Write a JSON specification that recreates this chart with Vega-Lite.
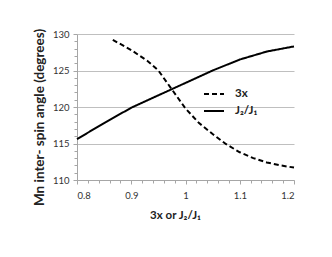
{
  "$schema": "https://vega.github.io/schema/vega-lite/v6.json",
  "autosize": {"type": "none"},
  "width": 217,
  "height": 146,
  "padding": {"left": 77, "top": 34, "right": 38, "bottom": 77},
  "background": "white",
  "config": {
    "view": {"stroke": null},
    "font": "Lato",
    "axis": {"labelFont": "Lato", "titleFont": "Lato", "labelColor": "#333", "titleColor": "#222"}
  },
  "data": {
    "values": [
      {"x": 0.8, "angle": 115.6, "series": "J₂/J₁"},
      {"x": 0.85, "angle": 117.8, "series": "J₂/J₁"},
      {"x": 0.9, "angle": 119.9, "series": "J₂/J₁"},
      {"x": 0.95, "angle": 121.6, "series": "J₂/J₁"},
      {"x": 1.0, "angle": 123.3, "series": "J₂/J₁"},
      {"x": 1.05, "angle": 125.0, "series": "J₂/J₁"},
      {"x": 1.1, "angle": 126.5, "series": "J₂/J₁"},
      {"x": 1.15, "angle": 127.6, "series": "J₂/J₁"},
      {"x": 1.2, "angle": 128.3, "series": "J₂/J₁"},
      {"x": 0.866, "angle": 129.2, "series": "3x"},
      {"x": 0.9, "angle": 127.8, "series": "3x"},
      {"x": 0.93, "angle": 126.3, "series": "3x"},
      {"x": 0.95, "angle": 125.0, "series": "3x"},
      {"x": 0.975, "angle": 122.4, "series": "3x"},
      {"x": 1.0, "angle": 119.8, "series": "3x"},
      {"x": 1.025, "angle": 117.8, "series": "3x"},
      {"x": 1.05, "angle": 116.3, "series": "3x"},
      {"x": 1.075, "angle": 114.9, "series": "3x"},
      {"x": 1.1, "angle": 113.8, "series": "3x"},
      {"x": 1.125, "angle": 113.0, "series": "3x"},
      {"x": 1.15, "angle": 112.4, "series": "3x"},
      {"x": 1.175, "angle": 112.0, "series": "3x"},
      {"x": 1.2, "angle": 111.7, "series": "3x"}
    ]
  },
  "layer": [
    {
      "mark": {"type": "rule", "opacity": 0},
      "encoding": {
        "x": {"field": "x", "type": "quantitative", "scale": {"domain": [0.8, 1.2]},
          "axis": {"values": [0.82,0.84,0.86,0.88,0.92,0.94,0.96,0.98,1.02,1.04,1.06,1.08,1.12,1.14,1.16,1.18], "labels": false, "grid": false, "domain": false, "tickSize": 3, "tickColor": "#a6a6a6", "title": null, "orient": "bottom"}},
        "y": {"field": "angle", "type": "quantitative", "scale": {"domain": [110, 130]},
          "axis": {"values": [111,112,113,114,116,117,118,119,121,122,123,124,126,127,128,129], "labels": false, "grid": false, "domain": false, "tickSize": 3, "tickColor": "#a6a6a6", "title": null, "orient": "left"}}
      }
    },
    {
      "mark": {"type": "line", "color": "black", "strokeWidth": 2},
      "encoding": {
        "x": {"field": "x", "type": "quantitative", "scale": {"domain": [0.8, 1.2]},
          "axis": {"orient": "bottom", "values": [0.8, 0.9, 1.0, 1.1, 1.2], "format": "~g", "grid": false, "domainColor": "#a6a6a6", "tickColor": "#a6a6a6", "tickSize": 4, "labelFontSize": 9.5, "labelPadding": 6,
            "title": "3x or J₂/J₁", "titleFontSize": 11.5, "titleFontWeight": "bold", "titlePadding": 10, "titleX": 98}},
        "y": {"field": "angle", "type": "quantitative", "scale": {"domain": [110, 130]},
          "axis": {"orient": "left", "values": [110, 115, 120, 125, 130], "grid": true, "gridColor": "#bfbfbf", "gridWidth": 1, "domainColor": "#a6a6a6", "tickColor": "#a6a6a6", "tickSize": 4, "labelFontSize": 9.5, "labelPadding": 4,
            "title": "Mn inter- spin angle  (degrees)", "titleFontSize": 13.5, "titleFontWeight": "bold", "titlePadding": 6, "titleY": 83}},
        "strokeDash": {"field": "series", "type": "nominal",
          "scale": {"domain": ["3x", "J₂/J₁"], "range": [[5, 3], [1, 0]]},
          "legend": {"orient": "none", "legendX": 126, "legendY": 49, "title": null, "symbolType": "stroke", "symbolStrokeWidth": 2, "symbolStrokeColor": "black", "symbolSize": 400, "labelFontSize": 11.5, "labelFontWeight": "bold", "labelColor": "#222", "rowPadding": -4, "labelOffset": 10}},
        "detail": {"field": "series"}
      }
    }
  ],
  "resolve": {"axis": {"x": "independent", "y": "independent"}}
}
